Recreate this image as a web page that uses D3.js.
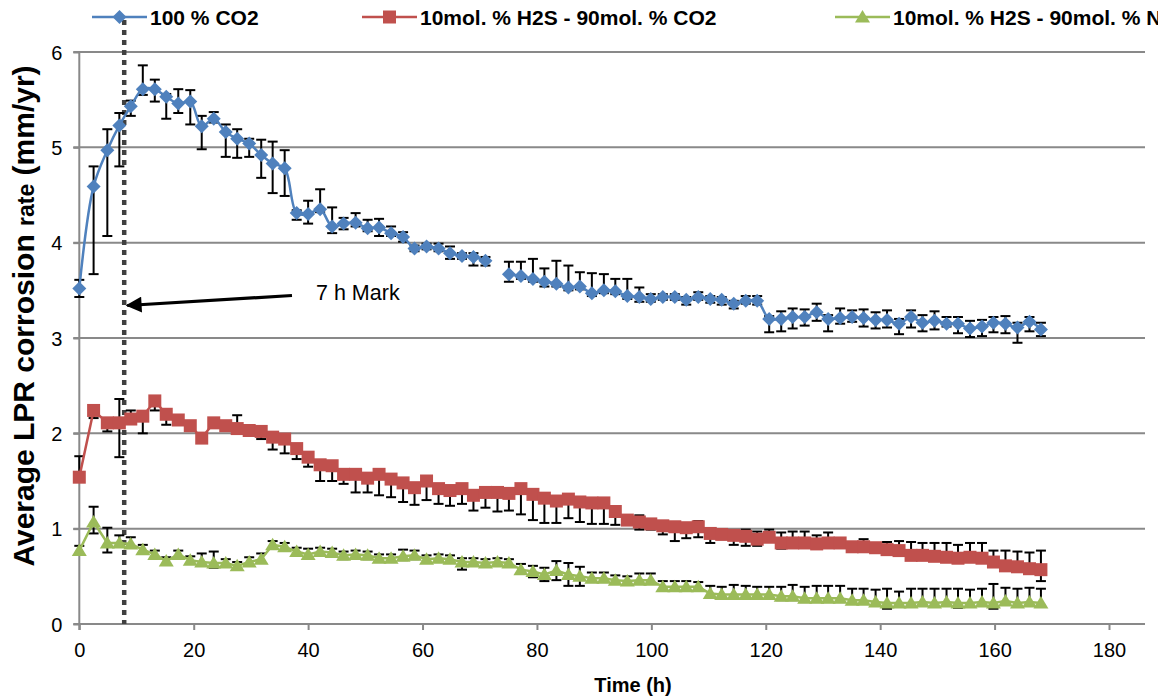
<!DOCTYPE html>
<html>
<head>
<meta charset="utf-8">
<script src="https://cdn.jsdelivr.net/npm/d3@7/dist/d3.min.js"></script>
<style>
  html, body { margin: 0; padding: 0; background: #fff; }
  svg { display: block; }
</style>
</head>
<body>
<svg id="chart" width="1158" height="698"></svg>
<script>
// ---- Data ----
const timeH = [0, 2.5, 4.9, 7.0, 9.0, 11.1, 13.2, 15.2, 17.3, 19.4, 21.4, 23.5, 25.6, 27.6, 29.7, 31.8, 33.8, 35.9, 38.0, 40.0,
  42.1, 44.2, 46.2, 48.3, 50.4, 52.4, 54.5, 56.6, 58.6, 60.7, 62.8, 64.8, 66.9, 68.9, 71.0, 73.1, 75.1, 77.2, 79.3, 81.3,
  83.4, 85.5, 87.5, 89.6, 91.7, 93.7, 95.8, 97.9, 99.9, 102.0, 104.1, 106.1, 108.2, 110.3, 112.3, 114.4, 116.5, 118.5, 120.6, 122.7,
  124.7, 126.8, 128.9, 130.9, 133.0, 135.1, 137.1, 139.2, 141.2, 143.3, 145.4, 147.4, 149.5, 151.6, 153.6, 155.7, 157.8, 159.8, 161.9, 164.0,
  166.1, 168.1];

// 100 % CO2
const co2 = [3.52, 4.59, 4.97, 5.23, 5.43, 5.61, 5.61, 5.53, 5.46, 5.48, 5.22, 5.30, 5.16, 5.09, 5.04, 4.92, 4.83, 4.78, 4.31, 4.30,
  4.35, 4.17, 4.20, 4.21, 4.15, 4.16, 4.10, 4.06, 3.94, 3.96, 3.94, 3.89, 3.86, 3.85, 3.81, null, 3.67, 3.65, 3.62, 3.59,
  3.57, 3.53, 3.54, 3.47, 3.50, 3.49, 3.44, 3.43, 3.41, 3.43, 3.43, 3.40, 3.43, 3.41, 3.40, 3.36, 3.39, 3.39, 3.20, 3.20,
  3.22, 3.22, 3.27, 3.20, 3.21, 3.22, 3.21, 3.19, 3.19, 3.15, 3.22, 3.16, 3.18, 3.15, 3.15, 3.10, 3.12, 3.16, 3.15, 3.11,
  3.17, 3.09];
const co2ErrUp = [0.09, 0.21, 0.22, 0.13, 0.06, 0.25, 0.10, 0.03, 0.15, 0.12, 0.11, 0.07, 0.08, 0.10, 0.05, 0.16, 0.23, 0.19, 0.03, 0.14,
  0.21, 0.20, 0.06, 0.10, 0.09, 0.09, 0.07, 0.05, 0.03, 0.03, 0.05, 0.07, 0.03, 0.04, 0.04, null, 0.13, 0.15, 0.21, 0.14,
  0.24, 0.23, 0.15, 0.21, 0.17, 0.13, 0.18, 0.10, 0.05, 0.03, 0.03, 0.03, 0.05, 0.03, 0.03, 0.03, 0.05, 0.05, 0.03, 0.08,
  0.09, 0.08, 0.09, 0.04, 0.10, 0.07, 0.09, 0.08, 0.10, 0.05, 0.07, 0.08, 0.10, 0.07, 0.07, 0.08, 0.07, 0.06, 0.08, 0.05,
  0.05, 0.07];
const co2ErrDown = [0.09, 0.92, 0.90, 0.43, 0.10, 0.06, 0.13, 0.23, 0.10, 0.24, 0.24, 0.04, 0.26, 0.20, 0.14, 0.24, 0.31, 0.29, 0.07, 0.10,
  0.03, 0.07, 0.06, 0.04, 0.03, 0.09, 0.03, 0.05, 0.03, 0.03, 0.03, 0.06, 0.03, 0.09, 0.05, null, 0.08, 0.03, 0.03, 0.05,
  0.03, 0.03, 0.03, 0.03, 0.03, 0.03, 0.03, 0.05, 0.03, 0.03, 0.03, 0.05, 0.03, 0.04, 0.05, 0.05, 0.03, 0.04, 0.14, 0.13,
  0.12, 0.09, 0.09, 0.13, 0.06, 0.05, 0.09, 0.09, 0.08, 0.11, 0.11, 0.09, 0.09, 0.03, 0.10, 0.09, 0.10, 0.10, 0.10, 0.16,
  0.10, 0.07];

// 10mol. % H2S - 90mol. % CO2
const h2sCo2 = [1.54, 2.24, 2.11, 2.11, 2.15, 2.18, 2.34, 2.20, 2.14, 2.08, 1.95, 2.11, 2.08, 2.05, 2.03, 2.02, 1.96, 1.94, 1.84, 1.75,
  1.67, 1.66, 1.57, 1.57, 1.53, 1.57, 1.52, 1.48, 1.43, 1.50, 1.42, 1.40, 1.42, 1.35, 1.38, 1.38, 1.37, 1.42, 1.36, 1.32,
  1.29, 1.31, 1.28, 1.27, 1.27, 1.18, 1.09, 1.07, 1.05, 1.03, 1.02, 1.01, 1.02, 0.95, 0.94, 0.93, 0.92, 0.89, 0.91, 0.85,
  0.85, 0.85, 0.84, 0.85, 0.85, 0.81, 0.81, 0.80, 0.78, 0.77, 0.72, 0.72, 0.71, 0.70, 0.69, 0.70, 0.69, 0.65, 0.61, 0.60,
  0.58, 0.57];
const h2sCo2ErrUp = [0.22, 0.03, 0.03, 0.25, 0.09, 0.03, 0.03, 0.03, 0.03, 0.03, 0.03, 0.03, 0.03, 0.14, 0.03, 0.03, 0.03, 0.03, 0.03, 0.03,
  0.03, 0.03, 0.03, 0.03, 0.03, 0.03, 0.03, 0.03, 0.03, 0.03, 0.03, 0.03, 0.03, 0.03, 0.03, 0.03, 0.03, 0.03, 0.03, 0.03,
  0.03, 0.03, 0.03, 0.03, 0.03, 0.03, 0.03, 0.07, 0.03, 0.03, 0.03, 0.03, 0.06, 0.03, 0.03, 0.03, 0.07, 0.08, 0.08, 0.11,
  0.12, 0.12, 0.09, 0.11, 0.03, 0.03, 0.08, 0.03, 0.08, 0.10, 0.14, 0.13, 0.14, 0.15, 0.14, 0.15, 0.16, 0.12, 0.16, 0.16,
  0.17, 0.20];
const h2sCo2ErrDown = [0.03, 0.08, 0.09, 0.36, 0.03, 0.18, 0.10, 0.11, 0.03, 0.03, 0.03, 0.03, 0.03, 0.03, 0.03, 0.08, 0.13, 0.15, 0.11, 0.10,
  0.17, 0.16, 0.10, 0.19, 0.15, 0.22, 0.19, 0.20, 0.18, 0.20, 0.16, 0.16, 0.16, 0.16, 0.16, 0.20, 0.18, 0.27, 0.27, 0.26,
  0.23, 0.20, 0.21, 0.22, 0.22, 0.14, 0.03, 0.08, 0.06, 0.09, 0.15, 0.11, 0.11, 0.10, 0.05, 0.10, 0.10, 0.07, 0.03, 0.06,
  0.03, 0.03, 0.03, 0.03, 0.03, 0.03, 0.03, 0.03, 0.03, 0.03, 0.03, 0.03, 0.03, 0.03, 0.03, 0.03, 0.03, 0.03, 0.03, 0.03,
  0.03, 0.12];

// 10mol. % H2S - 90mol. % N2
const h2sN2 = [0.77, 1.07, 0.85, 0.85, 0.84, 0.78, 0.73, 0.66, 0.73, 0.67, 0.65, 0.64, 0.64, 0.61, 0.65, 0.68, 0.83, 0.81, 0.76, 0.73,
  0.76, 0.75, 0.72, 0.73, 0.72, 0.69, 0.69, 0.71, 0.72, 0.68, 0.69, 0.68, 0.65, 0.65, 0.64, 0.65, 0.64, 0.57, 0.55, 0.52,
  0.56, 0.52, 0.50, 0.48, 0.48, 0.46, 0.45, 0.46, 0.46, 0.39, 0.39, 0.39, 0.39, 0.32, 0.31, 0.31, 0.31, 0.31, 0.31, 0.29,
  0.29, 0.27, 0.27, 0.27, 0.27, 0.25, 0.25, 0.23, 0.22, 0.22, 0.22, 0.23, 0.22, 0.23, 0.22, 0.22, 0.23, 0.22, 0.24, 0.22,
  0.23, 0.22];
const h2sN2ErrUp = [0.05, 0.16, 0.16, 0.08, 0.07, 0.05, 0.04, 0.04, 0.04, 0.04, 0.09, 0.12, 0.04, 0.04, 0.05, 0.06, 0.04, 0.04, 0.04, 0.06,
  0.04, 0.04, 0.04, 0.04, 0.04, 0.04, 0.04, 0.07, 0.05, 0.04, 0.04, 0.04, 0.04, 0.04, 0.04, 0.04, 0.04, 0.06, 0.06, 0.07,
  0.10, 0.12, 0.10, 0.06, 0.06, 0.05, 0.05, 0.07, 0.07, 0.06, 0.06, 0.06, 0.05, 0.08, 0.08, 0.10, 0.09, 0.08, 0.08, 0.10,
  0.12, 0.12, 0.13, 0.13, 0.13, 0.12, 0.12, 0.13, 0.15, 0.12, 0.15, 0.14, 0.15, 0.14, 0.15, 0.14, 0.14, 0.20, 0.14, 0.15,
  0.15, 0.15];
const h2sN2ErrDown = [0.04, 0.12, 0.10, 0.04, 0.04, 0.04, 0.04, 0.04, 0.04, 0.04, 0.04, 0.05, 0.04, 0.04, 0.04, 0.04, 0.04, 0.04, 0.04, 0.04,
  0.04, 0.04, 0.04, 0.04, 0.04, 0.04, 0.04, 0.04, 0.04, 0.04, 0.04, 0.04, 0.08, 0.04, 0.04, 0.04, 0.04, 0.04, 0.06, 0.07,
  0.10, 0.12, 0.10, 0.04, 0.04, 0.04, 0.04, 0.04, 0.04, 0.04, 0.04, 0.04, 0.04, 0.04, 0.04, 0.04, 0.04, 0.04, 0.04, 0.04,
  0.04, 0.04, 0.04, 0.04, 0.04, 0.04, 0.04, 0.04, 0.06, 0.04, 0.04, 0.04, 0.04, 0.04, 0.05, 0.04, 0.04, 0.06, 0.04, 0.04,
  0.04, 0.04];

const seriesNames = ["100 % CO2", "10mol. % H2S - 90mol. % CO2", "10mol. % H2S - 90mol. % N2"];
const xTicks = [0, 20, 40, 60, 80, 100, 120, 140, 160, 180];
const yTicks = [0, 1, 2, 3, 4, 5, 6];
const markTime = 7.85;
const markLabel = "7 h Mark";
const xTitle = "Time (h)";

// ---- Layout ----
const svg = d3.select("#chart");
const X0 = 79.3, X180 = 1109, XEND = 1145;
const Y0 = 624, Y6 = 52;
const x = d3.scaleLinear().domain([0, 180]).range([X0, X180]);
const y = d3.scaleLinear().domain([0, 6]).range([Y0, Y6]);
const gridColor = "#898989";
const font = "'Liberation Sans', Arial, sans-serif";

// gridlines (with left tick stubs)
svg.append("g").selectAll("line").data(yTicks.filter(d => d > 0)).join("line")
  .attr("x1", X0 - 6).attr("x2", XEND)
  .attr("y1", d => y(d)).attr("y2", d => y(d))
  .attr("stroke", gridColor).attr("stroke-width", 2);

// axes via d3 axis generators
const xAxis = d3.axisBottom(x).tickValues(xTicks).tickSize(6).tickSizeOuter(0).tickFormat(d3.format("d"));
const gx = svg.append("g").attr("transform", `translate(0,${Y0})`).call(xAxis);
gx.select(".domain").remove();
gx.selectAll(".tick line").attr("stroke", gridColor).attr("stroke-width", 2);
gx.selectAll(".tick text").attr("font-family", font).attr("font-size", 20).attr("fill", "#000").attr("dy", 0).attr("y", 33);
svg.append("line").attr("x1", X0 - 6).attr("x2", XEND).attr("y1", Y0).attr("y2", Y0)
  .attr("stroke", gridColor).attr("stroke-width", 2);

const yAxis = d3.axisLeft(y).tickValues(yTicks).tickSize(6).tickSizeOuter(0).tickFormat(d3.format("d"));
const gy = svg.append("g").attr("transform", `translate(${X0},0)`).call(yAxis);
gy.select(".domain").remove();
gy.selectAll(".tick line").attr("stroke", gridColor).attr("stroke-width", 2);
gy.selectAll(".tick text").attr("font-family", font).attr("font-size", 20).attr("fill", "#000").attr("x", -17).attr("dy", "0.36em");
svg.append("line").attr("x1", X0).attr("x2", X0).attr("y1", Y6).attr("y2", Y0 + 6)
  .attr("stroke", gridColor).attr("stroke-width", 2);

// dotted 7 h mark line
svg.append("line").attr("x1", x(markTime)).attr("x2", x(markTime)).attr("y1", 20).attr("y2", Y0)
  .attr("stroke", "#404040").attr("stroke-width", 4.5).attr("stroke-dasharray", "5,5");

// series
const series = [
  { name: seriesNames[0], values: co2, up: co2ErrUp, down: co2ErrDown, color: "#4F81BD", marker: "diamond", curve: d3.curveCatmullRom.alpha(0.5) },
  { name: seriesNames[1], values: h2sCo2, up: h2sCo2ErrUp, down: h2sCo2ErrDown, color: "#C0504D", marker: "square", curve: d3.curveLinear },
  { name: seriesNames[2], values: h2sN2, up: h2sN2ErrUp, down: h2sN2ErrDown, color: "#9BBB59", marker: "triangle", curve: d3.curveLinear }
];

function markerPath(type) {
  if (type === "diamond") return "M0,-7L7,0L0,7L-7,0Z";
  if (type === "square") return "M-6.5,-6.5H6.5V6.5H-6.5Z";
  return "M0,-7L7.5,5.5L-7.5,5.5Z";
}

series.forEach(s => {
  const pts = timeH.map((t, i) => ({ t, v: s.values[i], up: s.up[i], down: s.down[i] }));
  const g = svg.append("g");
  const valid = pts.filter(p => p.v != null);
  // error bars
  const eb = g.append("g").attr("stroke", "#000").attr("stroke-width", 2);
  valid.filter(p => p.up != null).forEach(p => {
    const cx = x(p.t), yt = y(p.v + p.up), yb = y(p.v - p.down);
    eb.append("line").attr("x1", cx).attr("x2", cx).attr("y1", yt).attr("y2", yb);
    eb.append("line").attr("x1", cx - 5).attr("x2", cx + 5).attr("y1", yt).attr("y2", yt);
    eb.append("line").attr("x1", cx - 5).attr("x2", cx + 5).attr("y1", yb).attr("y2", yb);
  });
  // line
  const line = d3.line().defined(p => p.v != null).x(p => x(p.t)).y(p => y(p.v)).curve(s.curve);
  g.append("path").attr("d", line(pts)).attr("fill", "none").attr("stroke", s.color).attr("stroke-width", 2.5);
  // markers
  g.append("g").selectAll("path").data(valid).join("path")
    .attr("d", markerPath(s.marker))
    .attr("transform", p => `translate(${x(p.t)},${y(p.v)})`)
    .attr("fill", s.color);
});

// arrow + label
const defs = svg.append("defs");
defs.append("marker").attr("id", "arrowhead").attr("viewBox", "0 0 10 10")
  .attr("refX", 9).attr("refY", 5).attr("markerWidth", 5.5).attr("markerHeight", 5)
  .attr("markerUnits", "strokeWidth").attr("orient", "auto")
  .append("path").attr("d", "M0,0L10,5L0,10Z").attr("fill", "#000");
svg.append("line").attr("x1", 292).attr("y1", 295.5).attr("x2", x(markTime) + 3).attr("y2", 305.5)
  .attr("stroke", "#000").attr("stroke-width", 3.2).attr("marker-end", "url(#arrowhead)");
svg.append("text").attr("x", 316).attr("y", 300).attr("font-family", font).attr("font-size", 21.5)
  .attr("fill", "#000").text(markLabel);

// axis titles
svg.append("text").attr("x", 633).attr("y", 692).attr("text-anchor", "middle")
  .attr("font-family", font).attr("font-size", 20).attr("font-weight", "bold").text(xTitle);

const yt = svg.append("text").attr("transform", "translate(34,316) rotate(-90)").attr("text-anchor", "middle")
  .attr("font-family", font).attr("font-weight", "bold").attr("fill", "#000");
yt.append("tspan").attr("font-size", 30).text("Average LPR corrosion ");
yt.append("tspan").attr("font-size", 23).text("rate");
yt.append("tspan").attr("font-size", 30).text(" (mm/yr)");

// legend
const legendX = [92, 362, 835];
series.forEach((s, i) => {
  const lg = svg.append("g").attr("transform", `translate(${legendX[i]},17)`);
  lg.append("line").attr("x1", 0).attr("x2", 55).attr("y1", 0).attr("y2", 0)
    .attr("stroke", s.color).attr("stroke-width", 2.5);
  lg.append("path").attr("d", markerPath(s.marker)).attr("transform", "translate(27.5,0)").attr("fill", s.color);
  lg.append("text").attr("x", 58).attr("y", 8).attr("font-family", font).attr("font-size", 21)
    .attr("font-weight", "bold").attr("fill", "#000").text(s.name);
});
</script>
</body>
</html>
